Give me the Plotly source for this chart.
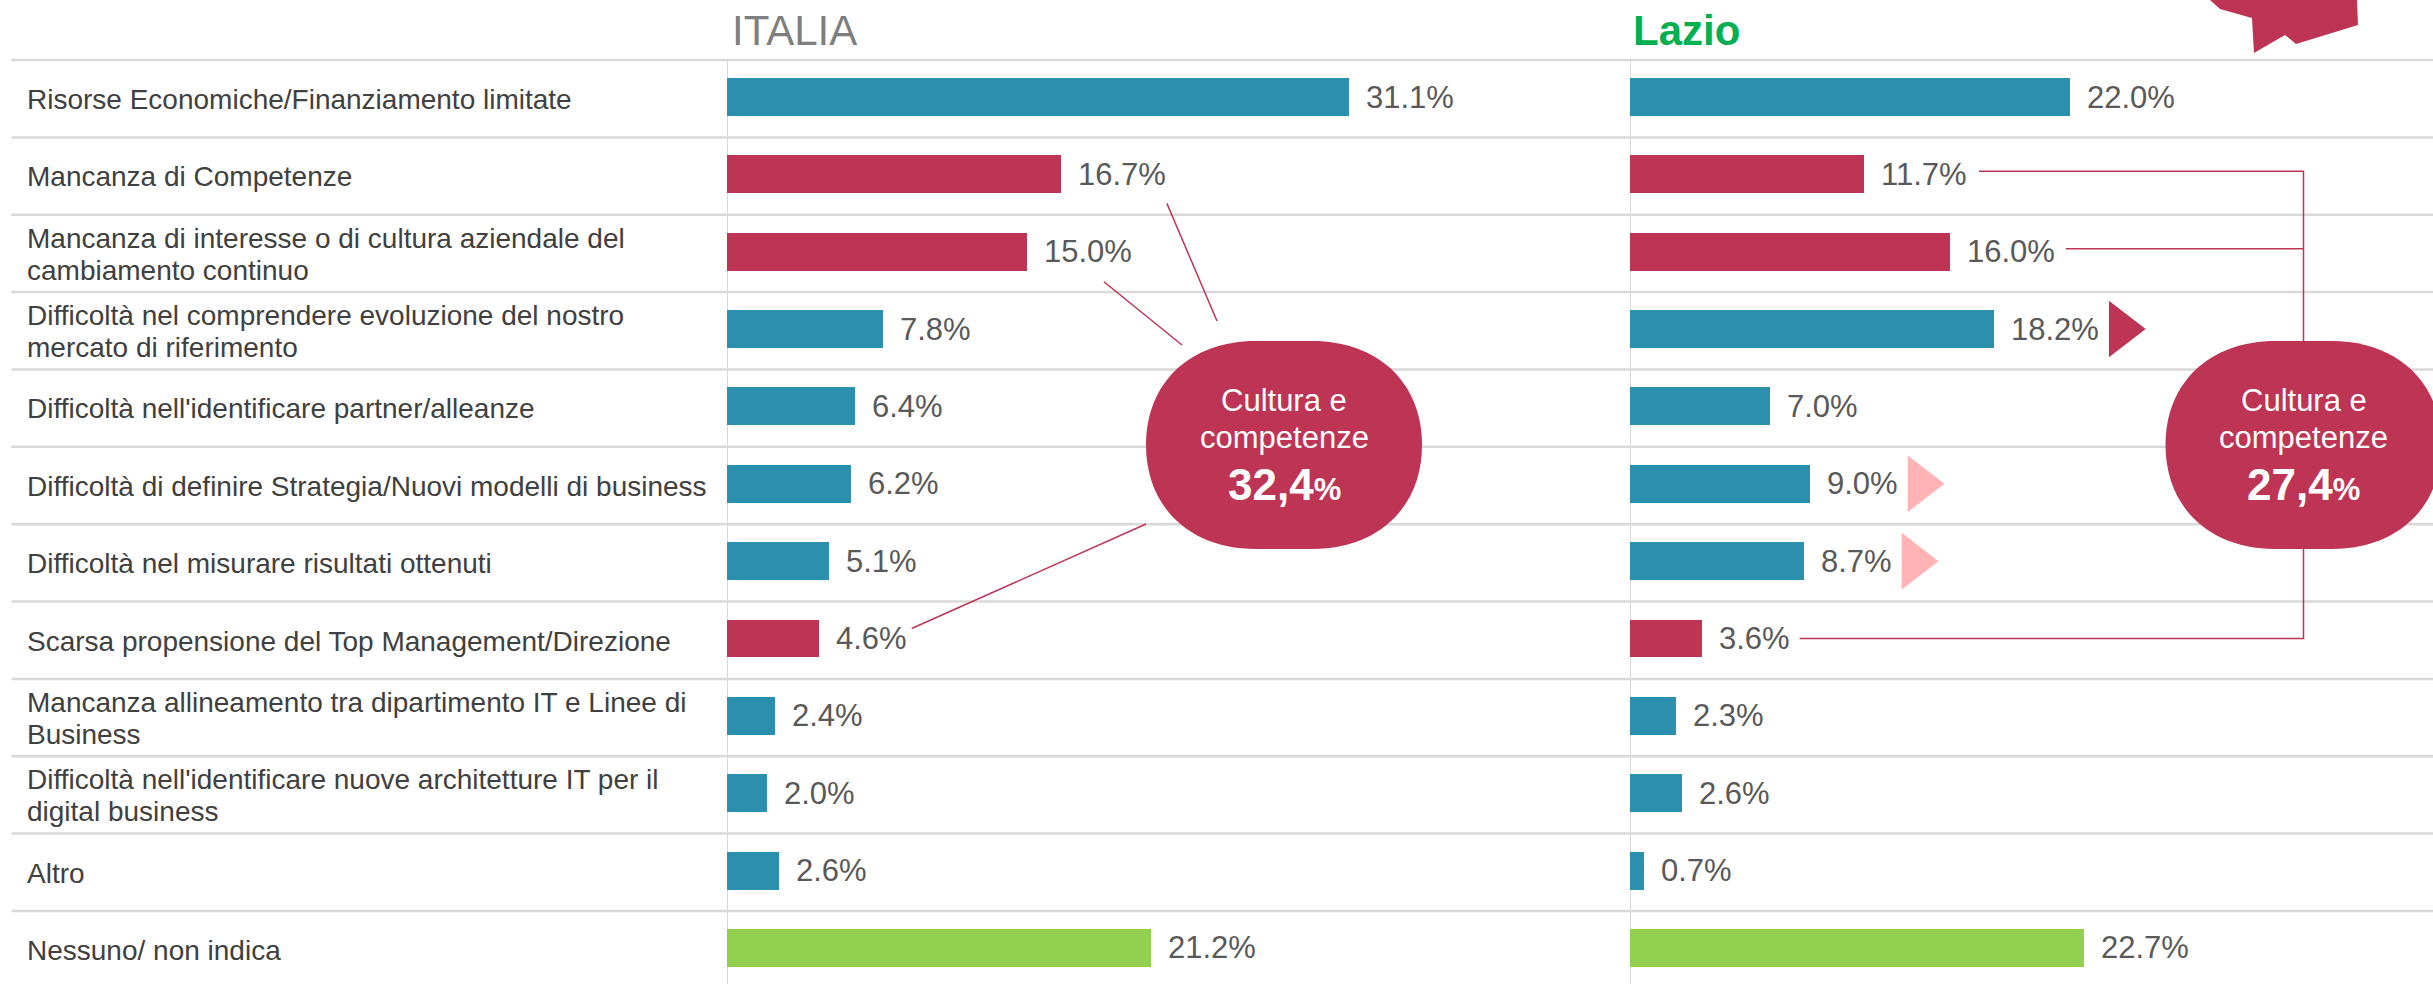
import plotly.graph_objects as go

# ---------------- data ----------------
categories = [
    "Risorse Economiche/Finanziamento limitate",
    "Mancanza di Competenze",
    "Mancanza di interesse o di cultura aziendale del<br>cambiamento continuo",
    "Difficoltà nel comprendere evoluzione del nostro<br>mercato di riferimento",
    "Difficoltà nell'identificare partner/alleanze",
    "Difficoltà di definire Strategia/Nuovi modelli di business",
    "Difficoltà nel misurare risultati ottenuti",
    "Scarsa propensione del Top Management/Direzione",
    "Mancanza allineamento tra dipartimento IT e Linee di<br>Business",
    "Difficoltà nell'identificare nuove architetture IT per il<br>digital business",
    "Altro",
    "Nessuno/ non indica",
]
italia = [31.1, 16.7, 15.0, 7.8, 6.4, 6.2, 5.1, 4.6, 2.4, 2.0, 2.6, 21.2]
lazio = [22.0, 11.7, 16.0, 18.2, 7.0, 9.0, 8.7, 3.6, 2.3, 2.6, 0.7, 22.7]
group = ["altro", "cultura", "cultura", "altro", "altro", "altro", "altro",
         "cultura", "altro", "altro", "altro", "nessuno"]
lazio_trend = ["", "", "", "forte", "", "lieve", "lieve", "", "", "", "", ""]
panel_titles = ["ITALIA", "Lazio"]
bubble_line1 = "Cultura e"
bubble_line2 = "competenze"
bubble_values = ["32,4", "27,4"]

# ---------------- style ----------------
W, H = 2433, 984
FONT = "Liberation Sans, Arial, sans-serif"
COL = {"altro": "#2C8FAD", "cultura": "#BE3455", "nessuno": "#92D050"}
TREND_COL = {"forte": "#BE3455", "lieve": "#FFB3B5"}
RED = "#BE3455"
GRID = "#D9D9D9"
X0 = {"x": 727, "x2": 1630}   # pixel origin of each panel
PXU = 20.0                     # pixels per percentage point
ROW0, ROWH = 97.0, 77.36       # pixel centre of first row, row height
VAL_FS = 31
LAB_FS = 28
CW = {"0": .556, "1": .556, "2": .556, "3": .556, "4": .556, "5": .556, "6": .556,
      "7": .556, "8": .556, "9": .556, ".": .278, ",": .278, "%": .889}


def tw(s, fs):
    return sum(CW.get(c, .556) for c in s) * fs


def px(x):
    return x / W


def py(y):
    return 1 - y / H


def xpx(v, ax):
    return X0[ax] + v * PXU


def ypx(i):
    return ROW0 + i * ROWH


n = len(categories)
ypos = list(range(n))
y_top = -ROW0 / ROWH
y_bot = (H - ROW0) / ROWH

fig = go.Figure()
for ax, vals in (("x", italia), ("x2", lazio)):
    fig.add_trace(go.Bar(
        x=vals, y=ypos, orientation="h", xaxis=ax, yaxis="y",
        marker=dict(color=[COL[g] for g in group], line_width=0),
        width=0.49, showlegend=False, hoverinfo="skip"))

# trend triangles (Lazio)
tx, ty, tc = [], [], []
for i, t in enumerate(lazio_trend):
    if t:
        lab = f"{lazio[i]:.1f}%"
        tx.append(lazio[i] + (15 + tw(lab, VAL_FS) + 12 + 12.3) / PXU)
        ty.append(i)
        tc.append(TREND_COL[t])
fig.add_trace(go.Scatter(
    x=tx, y=ty, xaxis="x2", yaxis="y", mode="markers",
    marker=dict(symbol="triangle-right", size=49, color=tc, line_width=0),
    showlegend=False, hoverinfo="skip"))

ann = []
# value labels
for ax, vals in (("x", italia), ("x2", lazio)):
    for i, v in enumerate(vals):
        ann.append(dict(x=v, y=i, xref=ax, yref="y", text=f"{v:.1f}%",
                        xanchor="left", yanchor="middle", xshift=15, showarrow=False,
                        font=dict(family=FONT, size=VAL_FS, color="#595959")))
# category labels (one annotation per line for tight line spacing)
for i, c in enumerate(categories):
    lines = c.split("<br>")
    shifts = [-2.5] if len(lines) == 1 else [13.5, -18.5]
    for ln, sh in zip(lines, shifts):
        ann.append(dict(x=px(25), y=i, xref="paper", yref="y", text=ln,
                        xanchor="left", yanchor="middle", yshift=sh, showarrow=False,
                        font=dict(family=FONT, size=LAB_FS, color="#404040")))
# titles
ann.append(dict(x=px(X0["x"] + 3), y=py(31), xref="paper", yref="paper",
                text=panel_titles[0], xanchor="left", yanchor="middle", showarrow=False,
                font=dict(family=FONT, size=42, color="#7F7F7F")))
ann.append(dict(x=px(X0["x2"] + 1), y=py(31), xref="paper", yref="paper",
                text=f"<b>{panel_titles[1]}</b>", xanchor="left", yanchor="middle",
                showarrow=False, font=dict(family=FONT, size=42, color="#00B050")))

shapes = []
# row separators
for i in range(n):
    yy = i - 0.5 + 0.022
    shapes.append(dict(type="line", xref="paper", yref="y", x0=px(11.5), x1=1,
                       y0=yy, y1=yy, line=dict(color=GRID, width=2.5), layer="below"))
# panel baselines
for ax in ("x", "x2"):
    shapes.append(dict(type="line", xref=ax, yref="y", x0=0, x1=0,
                       y0=-0.5 + 0.022, y1=y_bot, line=dict(color=GRID, width=2),
                       layer="below"))


def pline(pts):
    d = "M " + " L ".join(f"{px(x):.6f},{py(y):.6f}" for x, y in pts)
    return dict(type="path", xref="paper", yref="paper", path=d,
                line=dict(color=RED, width=1.5), layer="above")


BW, BH, BCY = 276, 208, 445
bcx = [1284, 2303.5]

# Italia connectors
lab = lambda v: f"{v:.1f}%"
e1 = xpx(italia[1], "x") + 15 + tw(lab(italia[1]), VAL_FS)
shapes.append(pline([(e1 + 3, ypx(1) + 29), (bcx[0] - 67, BCY - BH / 2 - 20)]))
e2 = xpx(italia[2], "x") + 15 + tw(lab(italia[2]), VAL_FS)
shapes.append(pline([(e2 - 26, ypx(2) + 30), (bcx[0] - 102, BCY - BH / 2 + 4)]))
e7 = xpx(italia[7], "x") + 15 + tw(lab(italia[7]), VAL_FS)
shapes.append(pline([(e7 + 7, ypx(7) - 10), (bcx[0] - BW / 2, BCY + 79)]))

# Lazio bracket
s1 = xpx(lazio[1], "x2") + 15 + tw(lab(lazio[1]), VAL_FS) + 12
s2 = xpx(lazio[2], "x2") + 15 + tw(lab(lazio[2]), VAL_FS) + 13
s7 = xpx(lazio[7], "x2") + 15 + tw(lab(lazio[7]), VAL_FS) + 12
shapes.append(pline([(s1, ypx(1) - 3), (bcx[1], ypx(1) - 3), (bcx[1], ypx(7)),
                     (s7, ypx(7))]))
shapes.append(pline([(s2, ypx(2) - 3), (bcx[1], ypx(2) - 3)]))


def bubble(cx, cy, w, h, rx, ry, k=0.6):
    L, R, T, B = cx - w / 2, cx + w / 2, cy - h / 2, cy + h / 2
    P = lambda x, y: f"{px(x):.6f},{py(y):.6f}"
    d = (f"M {P(L + rx, T)} L {P(R - rx, T)} "
         f"C {P(R - rx + k * rx, T)} {P(R, T + ry - k * ry)} {P(R, T + ry)} "
         f"L {P(R, B - ry)} "
         f"C {P(R, B - ry + k * ry)} {P(R - rx + k * rx, B)} {P(R - rx, B)} "
         f"L {P(L + rx, B)} "
         f"C {P(L + rx - k * rx, B)} {P(L, B - ry + k * ry)} {P(L, B - ry)} "
         f"L {P(L, T + ry)} "
         f"C {P(L, T + ry - k * ry)} {P(L + rx - k * rx, T)} {P(L + rx, T)} Z")
    return dict(type="path", xref="paper", yref="paper", path=d,
                fillcolor=RED, line=dict(width=0), layer="above")


for j, cx in enumerate(bcx):
    shapes.append(bubble(cx, BCY, BW, BH, 110, 104))
    ann.append(dict(x=px(cx), y=py(401), xref="paper", yref="paper", text=bubble_line1,
                    xanchor="center", yanchor="middle", showarrow=False,
                    font=dict(family=FONT, size=31, color="white")))
    ann.append(dict(x=px(cx), y=py(438), xref="paper", yref="paper", text=bubble_line2,
                    xanchor="center", yanchor="middle", showarrow=False,
                    font=dict(family=FONT, size=31, color="white")))
    ann.append(dict(x=px(cx), y=py(484), xref="paper", yref="paper",
                    text=f"<b>{bubble_values[j]}<span style='font-size:31px'>%</span></b>",
                    xanchor="center", yanchor="middle", showarrow=False,
                    font=dict(family=FONT, size=44, color="white")))

# decorative corner shape (top right)
corner = [(2210, 0), (2220, 9), (2252, 18), (2254, 53), (2285, 35), (2296, 44),
          (2358, 25), (2357, 0)]
shapes.append(dict(type="path", xref="paper", yref="paper",
                   path="M " + " L ".join(f"{px(x):.6f},{py(y):.6f}" for x, y in corner) + " Z",
                   fillcolor=RED, line=dict(width=0), layer="above"))

fig.update_layout(
    width=W, height=H, margin=dict(l=0, r=0, t=0, b=0),
    paper_bgcolor="white", plot_bgcolor="white",
    xaxis=dict(domain=[px(X0["x"]), px(X0["x2"])], range=[0, (X0["x2"] - X0["x"]) / PXU],
               visible=False, fixedrange=True),
    xaxis2=dict(domain=[px(X0["x2"]), 1], range=[0, (W - X0["x2"]) / PXU],
                visible=False, anchor="y", fixedrange=True),
    yaxis=dict(range=[y_bot, y_top], visible=False, fixedrange=True),
    annotations=ann, shapes=shapes, bargap=0,
)

fig.write_html("out.html", config={"displayModeBar": False},
               post_script="document.body.style.margin='0';document.body.style.overflow='hidden';")
